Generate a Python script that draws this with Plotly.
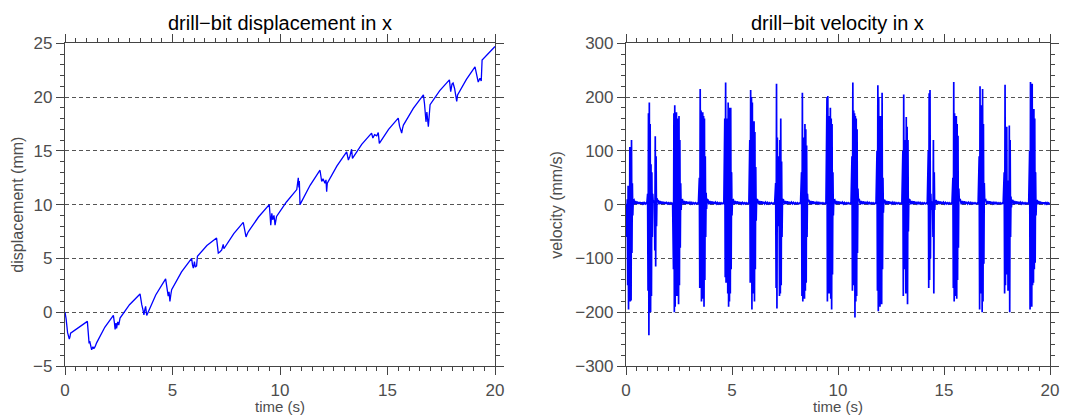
import numpy as np
import plotly.graph_objects as go

# ---------------- data ----------------
disp_t = [0.00, 0.05, 0.12, 0.16, 0.20, 0.23, 0.26, 1.04, 1.06, 1.09, 1.12, 1.15, 1.20, 1.24, 1.30, 1.34, 1.40, 1.47,
          1.85, 2.25, 2.30, 2.33, 2.37, 2.40, 2.45, 2.50, 2.56, 3.00, 3.49, 3.53, 3.57, 3.63, 3.67, 3.72, 3.75, 3.80,
          4.22, 4.68, 4.74, 4.80, 4.84, 4.88, 4.92, 4.96, 5.42, 5.89, 5.93, 5.97, 6.02, 6.06, 6.12, 6.16, 6.60, 7.05,
          7.10, 7.13, 7.20, 7.29, 7.33, 7.36, 7.39, 7.85, 8.29, 8.35, 8.42, 8.48, 8.53, 9.00, 9.50, 9.54, 9.57, 9.62,
          9.66, 9.72, 9.77, 9.84, 10.30, 10.78, 10.82, 10.85, 10.88, 10.90, 10.93, 11.40, 11.86, 11.90, 11.94, 12.00,
          12.09, 12.14, 12.17, 12.20, 12.65, 13.10, 13.15, 13.18, 13.25, 13.33, 13.37, 13.80, 14.26, 14.32, 14.40,
          14.50, 14.57, 14.62, 15.05, 15.50, 15.56, 15.62, 15.66, 15.70, 15.74, 16.20, 16.67, 16.72, 16.76, 16.79,
          16.83, 16.90, 16.98, 17.43, 17.88, 17.94, 18.00, 18.05, 18.12, 18.22, 18.26, 18.67, 19.07, 19.12, 19.17,
          19.22, 19.30, 19.36, 19.40, 20.00]
disp_mm = [0.0, -0.6, -1.9, -2.3, -2.5, -2.3, -1.95, -0.85, -1.6, -2.6, -2.9, -2.7, -3.3, -3.5, -3.2, -3.4, -3.2, -2.85,
           -1.4, -0.3, -1.0, -1.6, -1.0, -1.5, -0.9, -1.2, -0.55, 0.7, 1.7, 1.0, 0.7, 0.2, -0.25, 0.3, 0.55, -0.3,
           1.6, 3.1, 2.2, 1.5, 1.9, 1.0, 1.6, 2.1, 3.75, 5.0, 4.4, 4.1, 4.7, 4.2, 4.3, 5.2, 6.2, 6.9,
           6.0, 5.5, 5.6, 5.8, 6.1, 6.3, 5.9, 7.3, 8.35, 7.5, 7.0, 7.3, 7.5, 8.85, 10.0, 9.0, 8.1, 9.2,
           8.6, 9.0, 8.1, 8.9, 10.25, 11.4, 11.9, 12.5, 11.6, 12.2, 10.0, 11.8, 13.2, 12.5, 12.15, 12.4,
           12.0, 12.3, 11.2, 12.0, 13.6, 14.9, 14.4, 14.15, 14.5, 15.15, 14.3, 15.6, 16.65, 16.2, 16.5,
           16.4, 16.7, 15.7, 17.0, 18.05, 17.3, 17.0, 16.65, 17.1, 17.4, 18.95, 20.2, 19.4, 18.5, 17.7,
           18.6, 17.25, 19.3, 20.6, 21.6, 20.5, 21.2, 21.3, 20.8, 19.6, 20.2, 21.65, 22.8, 22.4, 22.0,
           21.4, 21.75, 21.5, 23.45, 24.7]

# velocity: stick-slip bursts sampled every 0.02 s, starting at these times
burst_start_s = [0.02, 1.02, 2.24, 3.46, 4.66, 5.84, 7.06, 8.28, 9.48, 10.66, 11.84, 13.06, 14.26, 15.42, 16.66,
                 17.84, 19.04]
burst_mm_s = [
    [0, -60, 10, -150, 35, -195, 20, -170, 107, -180, 60, -178, 120, -90, 40, -20, 8],
    [20, -160, 170, -243, 190, -170, 150, -200, 75, -170, 60, -60, 20, 5, 8, 4, 6, -85, 127, -115, 90, -40, 12, 6],
    [-120, 170, -200, 185, -190, 140, -140, 172, -170, 160, -160, 155, -185, 165, -150, 120, -80, 40, -10, 8],
    [50, -155, 215, -150, 175, -180, 140, -175, 172, -170, 165, -190, 160, -140, 90, -60, 22, -8, 10],
    [160, -135, 227, -145, 70, -130, 160, -165, 190, -190, 170, -180, 180, -165, 180, -120, 60, -20, 8],
    [120, -145, 213, -140, 200, -195, 190, -165, 150, -160, 155, -180, 135, -120, 70, -30, 10],
    [40, -155, 225, -193, 125, -40, 15, -10, 90, -170, 120, -165, 160, -150, 80, -60, 10],
    [60, -170, 208, -180, 125, -150, 60, -175, 150, -160, 140, -145, 110, -60, 20, 6],
    [200, -180, 202, -150, 165, -165, 130, -160, 180, -175, 160, -195, 150, -130, 60, -20, 8],
    [90, -160, 227, -150, 175, -140, 170, -210, 165, -180, 160, -170, 140, -90, 30, 8],
    [100, -160, 222, -198, 200, -170, 135, -190, 165, -160, 140, -185, 208, -120, 50, -15, 6],
    [100, -170, 205, -120, 30, -60, 120, -165, 163, -150, 145, -185, 120, -50, 10],
    [100, -155, 207, -140, 213, -100, 20, -10, 5, 4, 6, -60, 120, -165, 60, -10, 6],
    [50, -155, 228, -180, 170, -150, 143, -170, 165, -175, 150, -140, 128, -80, 30, 8],
    [90, -195, 220, -165, 170, -160, 185, -200, 215, -180, 150, -110, 40, 8],
    [60, -165, 223, -150, 110, -130, 145, -100, 40, -160, 45, -120, 147, -200, 120, -60, 15, -5, 6],
    [100, -195, 228, -160, 185, -190, 225, -150, 130, -145, 178, -120, 160, -108, 60, -20, 6],
]
# slow forward drift between bursts (mm/s), with its small residual wobble
rest_mm_s = [9, 0.5, 7, 1, 6, 1.5, 5, 1.5, 4.5, 1.5, 4, 1.5, 3.5, 1.5, 3.5, 1.5, 3, 1.5]
sample_dt = 0.02
t_end_s = 20.0

# ---------------- build velocity series ----------------
vel_t = [0.0]
vel_v = [0.0]
for k, (t0, vals) in enumerate(zip(burst_start_s, burst_mm_s)):
    for i, v in enumerate(vals):
        vel_t.append(t0 + i * sample_dt)
        vel_v.append(v)
    t_last = t0 + (len(vals) - 1) * sample_dt
    t_next = burst_start_s[k + 1] if k + 1 < len(burst_start_s) else t_end_s
    times = np.linspace(t_last, t_next, len(rest_mm_s) + 2)[1:-1]
    vel_t.extend(times.tolist())
    vel_v.extend(rest_mm_s)
vel_t.append(t_end_s)
vel_v.append(2.0)

# ---------------- figure ----------------
# the page body adds an 8px offset, so the figure is laid out in page px minus 8
OFF = 8
W, H = 1070 - OFF, 416 - OFF
BLUE = "#0000ff"
AX = "#444444"
FAM = "Liberation Sans, Arial, sans-serif"
TICKFONT = dict(family=FAM, size=17, color="#4d4d4d")

fig = go.Figure()
fig.add_trace(go.Scatter(x=disp_t, y=disp_mm, mode="lines", line=dict(color=BLUE, width=1.3),
                         xaxis="x", yaxis="y", showlegend=False))
fig.add_trace(go.Scatter(x=vel_t, y=vel_v, mode="lines", line=dict(color=BLUE, width=1.7),
                         xaxis="x2", yaxis="y2", showlegend=False))

def xax(domain, anchor):
    return dict(domain=domain, anchor=anchor, range=[0, 20], dtick=5, tick0=0, automargin=False,
                showline=True, linecolor=AX, linewidth=1.2, mirror="ticks",
                ticks="outside", ticklen=8, tickwidth=1, tickcolor=AX,
                minor=dict(dtick=0.5, ticks="outside", ticklen=4, tickcolor=AX, tickwidth=1, showgrid=False),
                showgrid=False, zeroline=False, tickfont=TICKFONT, fixedrange=True)

def yax(domain, anchor, rng, dtick, mdtick):
    return dict(domain=domain, anchor=anchor, range=rng, dtick=dtick, automargin=False,
                showline=True, linecolor=AX, linewidth=1.2, mirror="ticks",
                ticks="outside", ticklen=8, tickwidth=1, tickcolor=AX,
                minor=dict(dtick=mdtick, ticks="outside", ticklen=4, tickcolor=AX, tickwidth=1, showgrid=False),
                showgrid=True, gridcolor="#555555", gridwidth=1, griddash="4px,3px",
                zeroline=False, tickfont=TICKFONT, fixedrange=True, tickformat="d")

def px_x(p):
    return (p - OFF) / W

def px_y(p):
    return 1 - (p - OFF) / H

xd1 = [px_x(65), px_x(495)]
xd2 = [px_x(626), px_x(1050)]
yd = [px_y(366), px_y(43.3)]

fig.update_layout(
    width=W, height=H,
    margin=dict(l=0, r=0, t=0, b=0, autoexpand=False),
    paper_bgcolor="white", plot_bgcolor="white",
    xaxis=xax(xd1, "y"), yaxis=yax(yd, "x", [-5, 25], 5, 1),
    xaxis2=xax(xd2, "y2"), yaxis2=yax(yd, "x2", [-300, 300], 100, 20),
    font=dict(family=FAM),
)

ann = []
titles = [("drill\u2212bit displacement in x", xd1), ("drill\u2212bit velocity in x", xd2)]
for txt, d in titles:
    ann.append(dict(text=txt, x=(d[0] + d[1]) / 2, y=px_y(23), xref="paper", yref="paper",
                    xanchor="center", yanchor="middle", showarrow=False,
                    font=dict(size=20, color="black", family=FAM)))
for d in (xd1, xd2):
    ann.append(dict(text="time (s)", x=(d[0] + d[1]) / 2, y=0, xref="paper", yref="paper",
                    xanchor="center", yanchor="bottom", showarrow=False, borderpad=0,
                    font=dict(size=15, color="#4d4d4d", family=FAM)))
for txt, xp in (("displacement (mm)", 18), ("velocity (mm/s)", 557)):
    ann.append(dict(text=txt, x=px_x(xp), y=(yd[0] + yd[1]) / 2, xref="paper", yref="paper",
                    xanchor="center", yanchor="middle", showarrow=False, textangle=-90,
                    font=dict(size=16, color="#4d4d4d", family=FAM)))
fig.update_layout(annotations=ann)

fig.write_html("out.html")
